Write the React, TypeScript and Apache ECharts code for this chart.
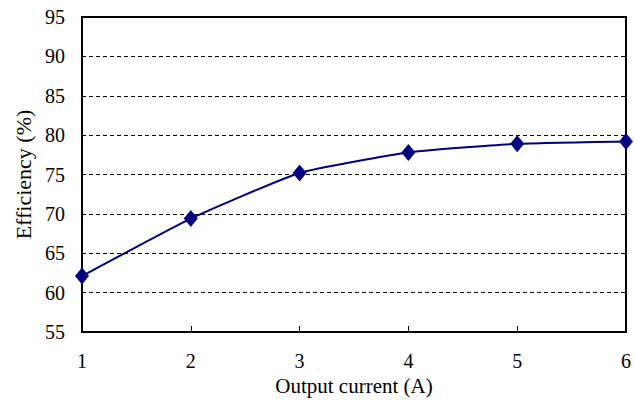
import React, { useEffect, useRef } from "react";
import * as echarts from "echarts";

const currents = [1, 2, 3, 4, 5, 6];
const efficiency = [62.1, 69.4, 75.2, 77.8, 78.9, 79.2];
const yTicks = [55, 60, 65, 70, 75, 80, 85, 90, 95];

export default function App() {
  const ref = useRef<HTMLDivElement>(null);
  useEffect(() => {
    const chart = echarts.init(ref.current!, null, { renderer: "svg" });
    const font = "Liberation Serif";
    chart.setOption({
      animation: false,
      backgroundColor: "#ffffff",
      grid: { left: 82, right: 8, top: 17, bottom: 85, show: true, borderColor: "#000", borderWidth: 2, backgroundColor: "transparent" },
      xAxis: {
        type: "value",
        min: 1,
        max: 6,
        interval: 1,
        name: "Output current (A)",
        nameLocation: "middle",
        nameGap: 41,
        nameTextStyle: { fontFamily: font, fontSize: 21, color: "#000" },
        axisLine: { lineStyle: { color: "#000", width: 2 } },
        axisTick: { inside: true, length: 6, lineStyle: { color: "#000", width: 1 } },
        axisLabel: { fontFamily: font, fontSize: 20, color: "#000", margin: 19 },
        splitLine: { show: false },
      },
      yAxis: {
        type: "value",
        min: yTicks[0],
        max: yTicks[yTicks.length - 1],
        interval: 5,
        name: "Efficiency (%)",
        nameLocation: "middle",
        nameGap: 48,
        nameTextStyle: { fontFamily: font, fontSize: 22, color: "#000" },
        axisLine: { lineStyle: { color: "#000", width: 2 } },
        axisTick: { show: false },
        axisLabel: { fontFamily: font, fontSize: 20, color: "#000", margin: 17 },
        splitLine: { show: true, lineStyle: { color: "#000", type: [4, 3], width: 1 } },
      },
      series: [
        {
          type: "line",
          data: currents.map((c, i) => [c, efficiency[i]]),
          smooth: 0.15,
          symbol: "diamond",
          symbolSize: [14, 17],
          lineStyle: { color: "#000080", width: 2 },
          itemStyle: { color: "#000080" },
        },
      ],
    });
    return () => chart.dispose();
  }, []);
  return <div ref={ref} style={{ width: 634, height: 417, position: "absolute", left: 0, top: 0 }} />;
}
